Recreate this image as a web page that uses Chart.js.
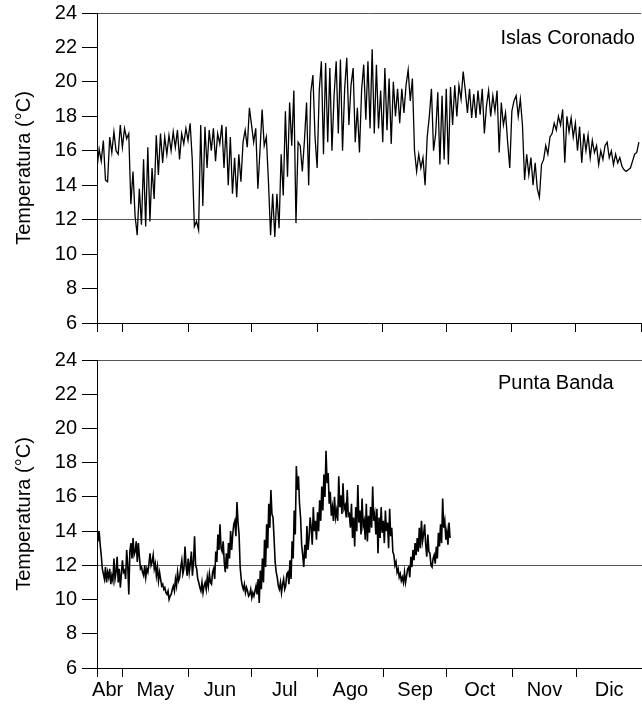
<!DOCTYPE html>
<html lang="es">
<head>
<meta charset="UTF-8">
<title>Temperatura Islas Coronado y Punta Banda</title>
<script src="https://cdn.jsdelivr.net/npm/chart.js"></script>
<style>
  body { margin: 0; background: #fff; overflow: hidden; }
  #wrap { position: relative; width: 642px; height: 715px; overflow: hidden; }
  canvas { position: absolute; left: 0; }
  .site { position: absolute; font: 20px 'Liberation Sans', Arial, sans-serif; line-height: 24px; color: #000; white-space: nowrap; }
</style>
</head>
<body>
<div id="wrap">
  <canvas id="coronado" width="642" height="344" style="top:-4px"></canvas>
  <canvas id="banda" width="642" height="375" style="top:340px"></canvas>
  <div class="site" style="right:7px; top:25px">Islas Coronado</div>
  <div class="site" style="left:498px; top:370px">Punta Banda</div>
</div>

<script>
// eje x: dia del año
const months = ['Abr', 'May', 'Jun', 'Jul', 'Ago', 'Sep', 'Oct', 'Nov', 'Dic'];
const monthLabelDays = [114, 136.5, 167, 197.5, 228.5, 259, 289.5, 320, 350.5];
const monthStartDays = [109, 121, 152, 182, 213, 244, 274, 305, 335, 366];
const yTickValues = [6, 8, 10, 12, 14, 16, 18, 20, 22, 24];
const refLines = [12, 24];

// Islas Coronado, un valor por dia desde el dia 109
const coronadoStart = 109;
const coronadoStep = 1;
const coronadoTemp = [
  15.0, 16.1, 15.4, 16.6, 14.3, 14.2, 16.8, 15.9, 17.1, 16.0,
  15.8, 17.5, 16.2, 17.3, 16.7, 17.0, 12.9, 14.8, 12.2, 11.1,
  13.8, 11.7, 15.5, 11.6, 16.2, 11.9, 15.0, 13.2, 16.9, 14.6,
  17.0, 15.3, 16.8, 15.8, 16.9, 16.0, 17.1, 16.2, 17.2, 15.5,
  17.0, 16.4, 17.3, 16.6, 17.6, 15.5, 11.6, 11.9, 11.4, 17.5,
  12.8, 17.4, 15.0, 17.2, 16.0, 17.3, 15.4, 17.0, 16.4, 17.5,
  15.0, 17.4, 14.0, 16.8, 13.5, 15.6, 13.3, 15.8, 14.2, 16.5,
  17.2, 16.2, 18.5, 17.5, 16.5, 17.3, 13.8, 16.0, 18.4, 16.3,
  16.8, 14.2, 11.1, 13.5, 11.0, 13.5, 11.5, 15.8, 13.4, 18.3,
  14.5, 18.8, 16.3, 19.5, 11.8, 16.5, 16.3, 14.8, 16.6, 18.8,
  14.0, 19.4, 20.4, 16.8, 15.0, 19.5, 21.2, 15.8, 21.1, 16.5,
  20.8, 16.0, 19.2, 21.2, 17.0, 21.3, 16.0, 19.6, 21.4, 17.5,
  19.8, 20.8, 16.5, 18.5, 15.9, 19.5, 21.0, 17.8, 21.2, 17.3,
  21.9, 17.0, 21.0, 17.3, 19.5, 16.5, 20.8, 17.2, 20.2, 16.4,
  20.0, 18.0, 19.6, 17.6, 19.6, 18.2, 19.8, 20.7, 18.9, 20.2,
  16.0, 14.8, 15.8, 15.0, 15.6, 14.0, 16.8, 18.0, 19.6, 16.0,
  17.0, 19.4, 15.2, 19.2, 15.5, 19.6, 15.2, 19.7, 17.5, 19.8,
  18.0, 19.8, 19.0, 20.6, 19.5, 18.2, 19.6, 17.9, 19.3, 17.9,
  19.5, 18.1, 19.6, 17.0, 18.6, 19.5, 18.0, 19.2, 18.3, 19.5,
  15.9, 18.8, 17.5, 18.2, 16.5, 15.0, 18.3, 18.9, 19.2, 18.0,
  19.0, 17.5, 14.3, 15.8, 14.6, 15.6, 14.0, 15.3, 13.8, 13.3,
  15.2, 15.5, 16.3, 15.8, 16.8, 17.0, 17.6, 17.2, 18.0, 17.5,
  18.4, 15.3, 18.0, 17.1, 17.9, 16.8, 17.6, 16.0, 17.4, 15.3,
  17.0, 16.0, 16.9, 15.6, 16.6, 15.9, 16.3, 15.2, 16.0, 15.5,
  16.3, 16.5, 15.6, 16.0, 15.2, 15.8, 15.3, 15.6, 15.1, 14.9,
  14.8, 14.9, 15.0, 15.4, 15.8, 15.9, 16.5
];

// Punta Banda, dos valores por dia desde el dia 109
const bandaStart = 109;
const bandaStep = 0.5;
const bandaTemp = [
  14.3, 13.4, 14.0, 13.2, 12.6, 11.8, 11.5, 11.2, 11.9, 11.0,
  11.6, 11.3, 11.8, 10.9, 11.4, 11.1, 12.4, 11.2, 11.6, 12.5,
  11.0, 11.8, 10.7, 11.5, 12.3, 11.6, 11.7, 11.2, 12.9, 12.0,
  10.3, 12.8, 13.3, 12.4, 13.6, 12.6, 12.8, 13.4, 12.2, 13.3,
  12.5, 11.8, 11.9, 11.6, 11.4, 12.0, 11.3, 11.8, 11.6, 12.1,
  12.7, 12.0, 12.2, 12.6, 11.8, 12.1, 11.4, 11.9, 11.1, 11.6,
  11.2, 10.8, 10.9, 10.6, 10.7, 10.4, 10.3, 10.5, 10.0, 10.2,
  10.3, 10.6, 10.8, 10.5, 11.2, 10.8, 11.6, 11.1, 11.3, 11.9,
  12.3, 11.5, 11.8, 13.1, 12.0, 11.4, 12.4, 11.6, 12.1, 12.8,
  11.4, 12.2, 13.7, 12.0, 11.8, 11.2, 11.0, 10.7, 10.5, 11.0,
  10.4, 10.8, 11.0, 10.6, 11.3, 10.8, 11.5, 11.0, 10.9, 11.6,
  11.8, 11.2, 12.8, 12.2, 13.8, 12.9, 14.4, 13.0, 12.8, 13.4,
  12.2, 11.6, 12.7, 11.8, 13.3, 12.4, 14.0, 12.9, 13.8, 14.4,
  14.6, 13.7, 15.7, 14.5, 13.8, 11.9, 11.2, 10.8, 10.6, 10.9,
  10.4, 10.7, 10.5, 10.2, 10.3, 10.6, 10.1, 10.4, 10.2, 10.5,
  10.8, 10.3, 11.2, 9.8, 11.7, 10.6, 12.4, 11.0, 13.5, 11.9,
  14.4, 13.0, 15.6, 14.2, 16.4, 15.0, 14.8, 13.6, 12.2, 11.6,
  11.3, 10.8, 10.6, 11.0, 10.4, 10.9, 11.2, 10.6, 10.8, 11.5,
  11.6, 10.9, 12.3, 11.2, 13.4, 12.4, 15.2, 13.8, 17.8, 16.4,
  17.2, 15.6, 14.8, 13.2, 12.6, 11.9, 13.2, 12.4, 14.3, 12.9,
  13.6, 14.8, 14.2, 13.2, 15.4, 14.0, 14.6, 13.5, 15.1, 14.0,
  15.8, 14.6, 16.6, 15.2, 17.3, 16.0, 18.7, 16.8, 17.4, 15.6,
  16.3, 14.9, 15.4, 14.6, 16.0, 14.8, 15.2, 14.6, 17.2, 15.4,
  16.1, 15.0, 16.8, 15.3, 15.5, 14.8, 16.4, 14.9, 15.0, 14.2,
  15.6, 13.6, 14.8, 13.1, 15.4, 14.0, 16.7, 14.5, 15.2, 13.8,
  15.9, 14.3, 14.6, 13.5, 15.6, 13.4, 14.9, 13.9, 15.4, 14.2,
  16.6, 14.6, 15.0, 13.8, 15.3, 12.7, 14.8, 13.6, 15.4, 13.9,
  14.6, 13.3, 15.2, 14.0, 14.5, 13.0, 15.3, 13.7, 14.2, 12.8,
  12.6, 12.0, 12.2, 11.6, 11.8, 11.3, 11.5, 11.1, 11.3, 11.0,
  11.6, 11.0, 11.4, 11.8, 11.9, 11.3, 12.5, 11.9, 12.9, 12.3,
  13.3, 12.6, 13.6, 12.8, 14.2, 13.0, 14.6, 13.4, 13.8, 14.4,
  13.2, 12.5, 13.8, 12.8, 12.7, 12.0, 11.9, 12.4, 12.6, 12.1,
  13.1, 12.4, 13.9, 13.1, 14.4, 13.3, 15.9, 14.2, 14.6, 13.5,
  14.0, 13.2, 14.5, 13.6
];

const font = { family: "'Liberation Sans', Arial, sans-serif", size: 20 };

function makePanel(canvasId, temps, start, step, lineWidth, showLabels, padTop, xHeight) {
  const points = temps.map((t, i) => ({ x: start + i * step, y: t }));
  return new Chart(document.getElementById(canvasId), {
    type: 'line',
    data: {
      datasets: [{
        data: points,
        borderColor: '#000',
        borderWidth: lineWidth,
        pointRadius: 0,
        tension: 0,
        fill: false
      }]
    },
    options: {
      responsive: false,
      devicePixelRatio: 1,
      animation: false,
      layout: { padding: { top: padTop, right: 0, left: 0, bottom: 0 } },
      plugins: { legend: { display: false }, tooltip: { enabled: false } },
      scales: {
        x: {
          type: 'linear',
          min: monthStartDays[0],
          max: monthStartDays[monthStartDays.length - 1],
          afterBuildTicks: axis => {
            const vals = showLabels ? monthStartDays.concat(monthLabelDays) : monthStartDays;
            axis.ticks = vals.map(v => ({ value: v }));
          },
          afterFit: axis => { axis.height = xHeight; },
          ticks: {
            autoSkip: false,
            maxRotation: 0,
            padding: 1,
            color: '#000',
            font: font,
            callback: v => {
              const i = monthLabelDays.indexOf(v);
              return (showLabels && i >= 0) ? months[i] : '';
            }
          },
          grid: {
            drawOnChartArea: false,
            tickLength: 9,
            tickColor: ctx => (ctx.tick && monthStartDays.includes(ctx.tick.value)) ? '#000' : 'rgba(0,0,0,0)'
          },
          border: { color: '#000', width: 1 }
        },
        y: {
          min: 6,
          max: 24,
          afterBuildTicks: axis => { axis.ticks = yTickValues.map(v => ({ value: v })); },
          afterFit: axis => { axis.width = 97; },
          ticks: { padding: 5, color: '#000', font: font },
          grid: {
            tickLength: 15,
            tickColor: '#000',
            color: ctx => (ctx.tick && refLines.includes(ctx.tick.value)) ? '#555' : 'rgba(0,0,0,0)'
          },
          border: { color: '#000', width: 1 },
          title: {
            display: true,
            text: 'Temperatura (°C)',
            color: '#000',
            font: font,
            padding: { top: 12, bottom: 0 }
          }
        }
      }
    }
  });
}

// panel superior: el lienzo empieza 4 px arriba para dejar el area del grafico en y = 13
makePanel('coronado', coronadoTemp, coronadoStart, coronadoStep, 1.3, false, 17, 17);
makePanel('banda', bandaTemp, bandaStart, bandaStep, 1.6, true, 20, 47);
</script>
</body>
</html>
